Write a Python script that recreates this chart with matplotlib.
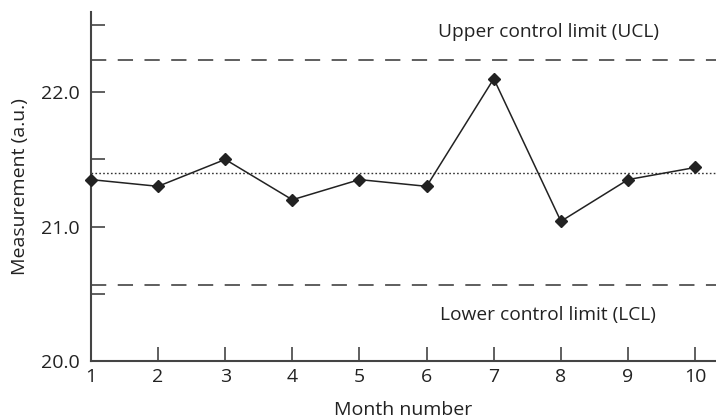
import matplotlib.pyplot as plt

plt.rcParams['font.family'] = ['Open Sans', 'DejaVu Sans']

months = [1, 2, 3, 4, 5, 6, 7, 8, 9, 10]
values = [21.35, 21.30, 21.50, 21.20, 21.35, 21.30, 22.10, 21.04, 21.35, 21.44]
ucl = 22.24
lcl = 20.565
center = 21.40

fig = plt.figure(figsize=(7.16, 4.19), dpi=100)
ax = fig.add_axes([0.127, 0.138, 0.873, 0.833])

ax.axhline(ucl, color='#333333', lw=1.1, linestyle=(0, (10, 7.5)))
ax.axhline(lcl, color='#333333', lw=1.1, linestyle=(0, (10, 7.5)))
ax.axhline(center, color='#333333', lw=1.0, linestyle=(0, (1.2, 1.6)))
ax.plot(months, values, color='#222222', lw=1.1, marker='D', ms=6.5,
        clip_on=False, zorder=3)

ax.text(7.82, 22.45, 'Upper control limit (UCL)', ha='center', va='center',
        fontsize=13.8, color='#222222')
ax.text(7.80, 20.34, 'Lower control limit (LCL)', ha='center', va='center',
        fontsize=13.8, color='#222222')

ax.set_xlim(1, 10.31)
ax.set_ylim(20.0, 22.595)
ax.set_xticks(months)
ax.set_yticks([20.0, 21.0, 22.0])
ax.set_yticklabels(['20.0', '21.0', '22.0'])
ax.set_yticks([20.5, 21.5, 22.5], minor=True)
ax.tick_params(axis='both', direction='in', length=10, width=1.2,
               colors='#444444', labelcolor='#222222', labelsize=14)
ax.tick_params(axis='y', which='minor', direction='in', length=10, width=1.2,
               colors='#444444')
ax.tick_params(axis='x', pad=5)
ax.tick_params(axis='y', pad=8)

for s in ['top', 'right']:
    ax.spines[s].set_visible(False)
for s in ['left', 'bottom']:
    ax.spines[s].set_color('#444444')
    ax.spines[s].set_linewidth(1.5)

ax.set_xlabel('Month number', fontsize=14, color='#222222', labelpad=11)
ax.set_ylabel('Measurement (a.u.)', fontsize=14, color='#222222', labelpad=9)

fig.savefig('out.png', dpi=100)
